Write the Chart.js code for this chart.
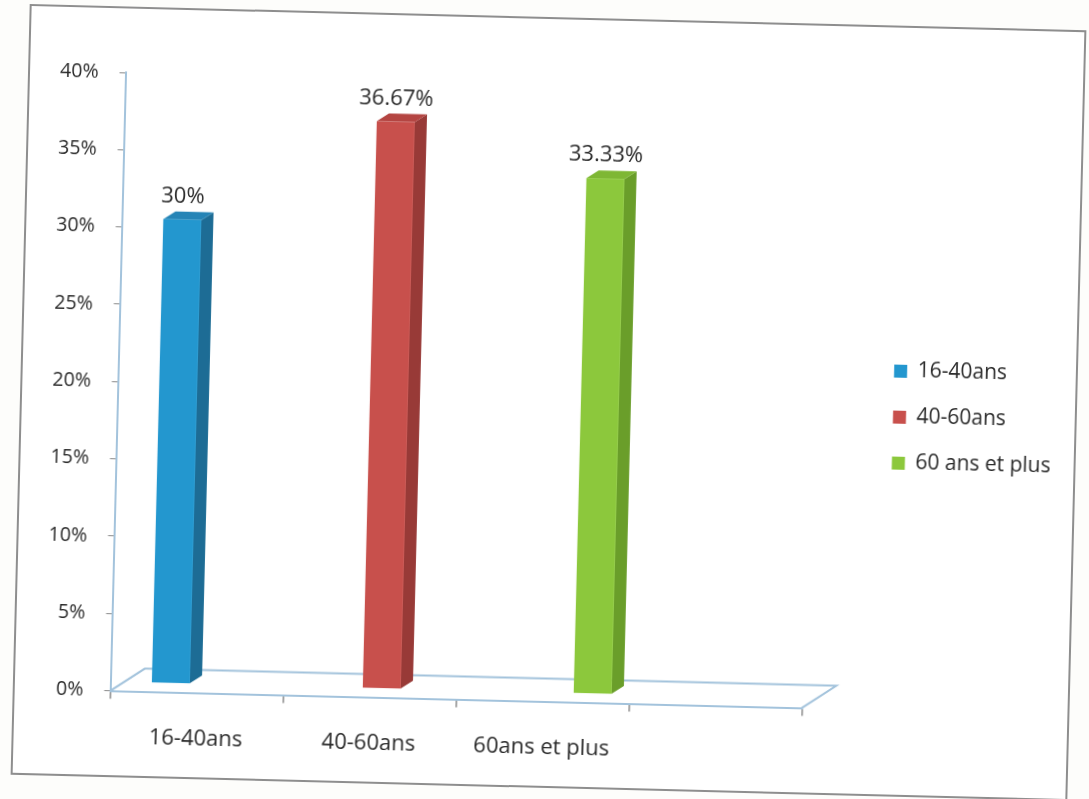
<!DOCTYPE html>
<html>
<head>
<meta charset="utf-8">
<title>Répartition par âge</title>
<script src="https://cdn.jsdelivr.net/npm/chart.js@4.4.1/dist/chart.umd.min.js"></script>
<style>
  body { margin: 0; background: #fdfdfb; width: 1089px; height: 799px; overflow: hidden; }
  /* the whole sheet sits a little askew */
  .frame {
    position: absolute; left: 19.5px; top: 16.5px;
    width: 1057px; height: 771px; box-sizing: border-box;
    border: 2px solid #8e8e8e; background: #fff;
    transform: rotate(1.42deg);
  }
  .box { position: relative; width: 1053px; height: 767px; }
</style>
</head>
<body>
<div class="frame"><div class="box"><canvas id="ageChart"></canvas></div></div>

<script>
// categories on the x axis (last slot is left empty)
const categories = ["16-40ans", "40-60ans", "60ans et plus", ""];
// legend entries, one series per age group
const seriesNames = ["16-40ans", "40-60ans", "60 ans et plus"];
const values = [30, 36.67, 33.33];
const yMin = 0, yMax = 40, yStep = 5;

const frontColors = ["#2397cf", "#c8504c", "#8cc83c"];
const sideColors = ["#1d6c95", "#983a37", "#6a9e2a"];
const topColors = ["#2584b6", "#b44542", "#7eb734"];
const axisColor = "#a3c3dc";
const tickColor = "#8a8a8a";
const textColor = "#2a2a2a";

Chart.defaults.font.family = "'Open Sans', sans-serif";
Chart.defaults.color = textColor;

// depth of the front face, of each column and of the floor
const shift = { dx: 12, dy: -9 };
const depth = { dx: 12, dy: -8 };
const floorDepth = { dx: 34, dy: -23 };

const datasets = seriesNames.map((name, i) => ({
  label: name,
  data: categories.map((c, j) => (j === i ? values[i] : null)),
  backgroundColor: frontColors[i],
  borderWidth: 0,
  xAxisID: "x",
  yAxisID: "y"
}));

function poly(ctx, pts, color) {
  ctx.fillStyle = color;
  ctx.beginPath();
  ctx.moveTo(pts[0][0], pts[0][1]);
  pts.slice(1).forEach(p => ctx.lineTo(p[0], p[1]));
  ctx.closePath();
  ctx.fill();
}

// 3D columns + floor, drawn from the bar elements
const bars3d = {
  id: "bars3d",
  beforeDatasetsDraw(chart) {
    const { ctx, chartArea, scales } = chart;
    const y0 = scales.y.getPixelForValue(0);
    ctx.save();

    // floor (back edge and sides; front edge is the x axis)
    ctx.strokeStyle = axisColor;
    ctx.lineWidth = 2;
    ctx.beginPath();
    ctx.moveTo(chartArea.left, y0);
    ctx.lineTo(chartArea.left + floorDepth.dx, y0 + floorDepth.dy);
    ctx.lineTo(chartArea.right + floorDepth.dx, y0 + floorDepth.dy);
    ctx.lineTo(chartArea.right, y0);
    ctx.stroke();

    chart.data.datasets.forEach((ds, i) => {
      const bar = chart.getDatasetMeta(i).data[i];
      const p = bar.getProps(["x", "y", "base", "width"], true);
      const l = p.x - p.width / 2 + shift.dx;
      const r = p.x + p.width / 2 + shift.dx;
      const t = p.y + shift.dy;
      const b = p.base + shift.dy;

      poly(ctx, [[r, t], [r + depth.dx, t + depth.dy], [r + depth.dx, b + depth.dy], [r, b]], sideColors[i]);
      poly(ctx, [[l, t], [l + depth.dx, t + depth.dy], [r + depth.dx, t + depth.dy], [r, t]], topColors[i]);
      ctx.fillStyle = frontColors[i];
      ctx.fillRect(l, t, r - l, b - t);

      // value label
      ctx.fillStyle = textColor;
      ctx.font = "22px 'Open Sans', sans-serif";
      ctx.textAlign = "center";
      ctx.textBaseline = "middle";
      ctx.fillText(values[i] + "%", (l + r) / 2, t - 23);
    });

    ctx.restore();
    return false;
  }
};

new Chart(document.getElementById("ageChart"), {
  type: "bar",
  data: { labels: categories, datasets: datasets },
  options: {
    responsive: true,
    maintainAspectRatio: false,
    animation: false,
    layout: { padding: { top: 22, left: 0, right: 13, bottom: 10 } },
    datasets: { bar: { categoryPercentage: 0.66, barPercentage: 1 } },
    plugins: {
      legend: {
        position: "right",
        maxWidth: 320,
        labels: { boxWidth: 13, boxHeight: 13, padding: 25, font: { size: 21 }, color: textColor }
      },
      tooltip: { enabled: false }
    },
    scales: {
      x: {
        grid: { display: true, drawOnChartArea: false, offset: true, tickLength: 8, color: tickColor, lineWidth: 1.5 },
        border: { color: axisColor, width: 2 },
        ticks: { font: { size: 22 }, padding: 25, color: textColor, maxRotation: 0 },
        afterFit(scale) { scale.height = 74.4; }
      },
      y: {
        min: yMin, max: yMax,
        grid: { drawOnChartArea: false, tickLength: 6, color: tickColor },
        border: { color: axisColor, width: 2 },
        ticks: { stepSize: yStep, font: { size: 19.5 }, padding: 21, color: textColor, callback: v => v + "%" },
        afterFit(scale) { scale.width = 95.5; }
      },
      // blank space above the plot
      gapTop: {
        type: "linear", position: "top", display: true,
        grid: { display: false }, border: { display: false }, ticks: { display: false },
        afterFit(scale) { scale.height = 42; }
      },
      // blank space between the floor and the legend
      gap: {
        type: "linear", position: "right", display: true,
        grid: { display: false }, border: { display: false }, ticks: { display: false },
        afterFit(scale) { scale.width = 59; }
      }
    }
  },
  plugins: [bars3d]
});
</script>
</body>
</html>
